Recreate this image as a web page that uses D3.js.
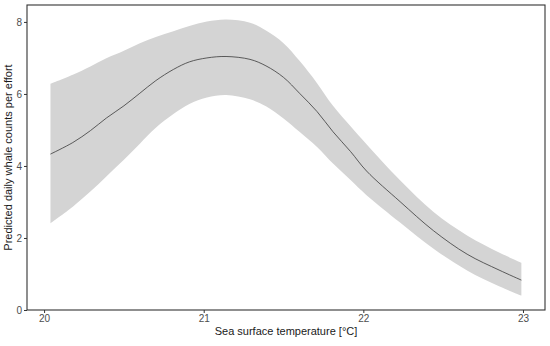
<!DOCTYPE html>
<html>
<head>
<meta charset="utf-8">
<script src="https://cdn.jsdelivr.net/npm/d3@7"></script>
<style>
  body { margin: 0; background: #fff; }
  text { font-family: "Liberation Sans", Arial, sans-serif; }
</style>
</head>
<body>
<svg id="chart" width="550" height="346"></svg>
<script>
// values
const sst = [20.04, 20.18, 20.29, 20.39, 20.50, 20.60, 20.70, 20.81, 20.91, 21.02, 21.14, 21.29,
  21.39, 21.50, 21.60, 21.71, 21.81, 21.92, 22.02, 22.23, 22.44, 22.65, 22.85, 22.99]
const fit = [4.33, 4.65, 4.98, 5.33, 5.67, 6.02, 6.37, 6.68, 6.89, 7.00, 7.04, 6.96,
  6.78, 6.46, 6.02, 5.51, 4.95, 4.40, 3.86, 3.01, 2.20, 1.55, 1.11, 0.83]
const upper = [6.28, 6.53, 6.76, 6.99, 7.20, 7.41, 7.58, 7.74, 7.89, 8.01, 8.07, 7.98,
  7.76, 7.41, 6.92, 6.30, 5.67, 5.10, 4.60, 3.60, 2.72, 2.07, 1.60, 1.31]
const lower = [2.41, 2.87, 3.29, 3.71, 4.17, 4.62, 5.06, 5.44, 5.72, 5.90, 5.97, 5.85,
  5.66, 5.32, 4.95, 4.53, 4.07, 3.61, 3.19, 2.43, 1.70, 1.10, 0.66, 0.40]
const xTicks = [20, 21, 22, 23]
const yTicks = [0, 2, 4, 6, 8]

const data = sst.map((x, i) => ({ x: x, y: fit[i], hi: upper[i], lo: lower[i] }))

const panel = { left: 27, top: 5, right: 545, bottom: 310 }

const svg = d3.select('#chart')

const x = d3.scaleLinear()
  .domain([19.893, 23.138])
  .range([panel.left, panel.right])

const y = d3.scaleLinear()
  .domain([0, 8.47])
  .range([panel.bottom, panel.top])

// ribbon
const band = d3.area()
  .x(d => x(d.x))
  .y0(d => y(d.lo))
  .y1(d => y(d.hi))
  .curve(d3.curveCatmullRom.alpha(0.5))

svg.append('path')
  .datum(data)
  .attr('d', band)
  .attr('fill', '#d4d4d4')

const line = d3.line()
  .x(d => x(d.x))
  .y(d => y(d.y))
  .curve(d3.curveCatmullRom.alpha(0.5))

svg.append('path')
  .datum(data)
  .attr('d', line)
  .attr('fill', 'none')
  .attr('stroke', '#3a3a3a')
  .attr('stroke-width', 0.8)

// axes
const xAxis = svg.append('g')
  .attr('transform', `translate(0, ${panel.bottom})`)
  .call(d3.axisBottom(x).tickValues(xTicks).tickFormat(d3.format('d')).tickSize(3).tickPadding(2))

const yAxis = svg.append('g')
  .attr('transform', `translate(${panel.left}, 0)`)
  .call(d3.axisLeft(y).tickValues(yTicks).tickFormat(d3.format('d')).tickSize(3).tickPadding(2))

;[xAxis, yAxis].forEach(g => {
  g.select('.domain').remove()
  g.selectAll('line').attr('stroke', '#333').attr('stroke-width', 1)
  g.selectAll('text')
    .attr('fill', '#4d4d4d')
    .style('font-size', '10px')
    .style('font-family', '"Liberation Sans", Arial, sans-serif')
})

// panel border
svg.append('rect')
  .attr('x', panel.left)
  .attr('y', panel.top)
  .attr('width', panel.right - panel.left)
  .attr('height', panel.bottom - panel.top)
  .attr('fill', 'none')
  .attr('stroke', '#333')
  .attr('stroke-width', 1.1)

// titles
svg.append('text')
  .attr('x', (panel.left + panel.right) / 2)
  .attr('y', 335)
  .attr('text-anchor', 'middle')
  .attr('fill', '#1a1a1a')
  .style('font-size', '11px')
  .text('Sea surface temperature [°C]')

svg.append('text')
  .attr('transform', `translate(12, ${(panel.top + panel.bottom) / 2}) rotate(-90)`)
  .attr('text-anchor', 'middle')
  .attr('fill', '#1a1a1a')
  .style('font-size', '11px')
  .text('Predicted daily whale counts per effort')
</script>
</body>
</html>
